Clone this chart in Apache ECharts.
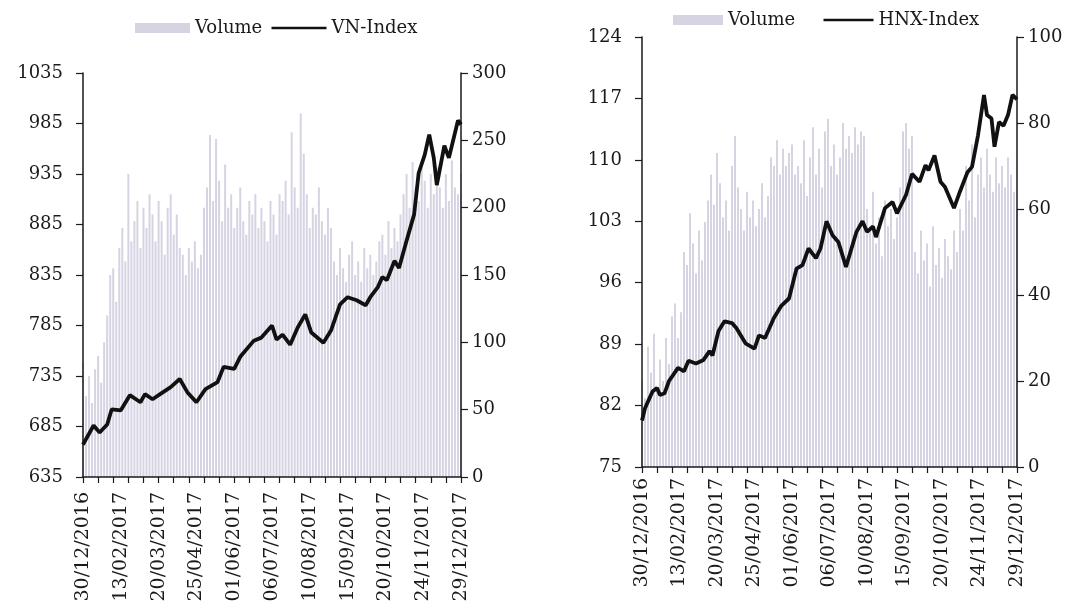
<!DOCTYPE html>
<html>
<head>
<meta charset="utf-8">
<script src="https://cdn.jsdelivr.net/npm/echarts@6/dist/echarts.min.js"></script>
<style>
  html, body { margin: 0; padding: 0; background: #fff; }
  #chart { width: 1072px; height: 609px; }
</style>
</head>
<body>
<div id="chart"></div>
<script>
// trading days of 2017, index 0 = 30/12/2016, 250 = 29/12/2017
const dayCount = 251;
const dateLabels = ['30/12/2016', '13/02/2017', '20/03/2017', '25/04/2017', '01/06/2017',
    '06/07/2017', '10/08/2017', '15/09/2017', '20/10/2017', '24/11/2017', '29/12/2017'];

// VN-Index (left chart) read at these day indices
const vnDays = [0, 7, 11, 16, 19, 25, 31, 38, 41, 46, 51, 58, 64, 69, 75, 81, 89, 93, 100, 104,
    113, 118, 125, 128, 132, 137, 142, 147, 151, 159, 164, 170, 175, 181, 187, 190, 195, 198, 201, 206,
    209, 214, 219, 222, 226, 229, 232, 234, 239, 242, 248, 250];
const vnIndex = [667, 686, 679, 687, 702, 701, 716, 709, 717, 712, 717, 724, 732, 719, 709, 722, 729, 744, 742, 754,
    770, 773, 785, 771, 776, 766, 783, 796, 778, 768, 780, 806, 813, 810, 805, 813, 823, 833, 830, 849,
    842, 869, 895, 936, 954, 974, 951, 924, 963, 951, 988, 984];
// VN volume, one value every 2 trading days
const vnVolume = [85, 60, 75, 55, 80, 90, 70, 100, 120, 150, 155, 130,
    170, 185, 160, 225, 175,
    190, 205, 170, 200, 185, 210, 195, 175, 205, 190, 165, 200, 210, 180, 195, 170,
    165, 150, 170, 160, 175, 155, 165,
    200, 215, 254, 205, 251, 220, 190, 232, 200,
    210, 185, 200, 215, 190, 180, 205, 195, 210, 185, 200, 190, 175, 205, 195, 180, 210,
    205, 220, 195, 256, 215, 200, 270,
    240, 210, 185, 200, 195, 215, 190, 180, 200, 185,
    160, 150, 170, 155, 145, 165, 175, 150, 160, 145, 170, 155, 165, 150, 160, 175,
    180, 165, 190, 170, 185, 175, 195,
    210, 225, 200, 234, 215, 205, 230, 220, 200, 225, 210, 230, 215, 200, 225, 205, 235, 215, 210, 225];

// HNX-Index (right chart)
const hnxDays = [0, 2, 7, 10, 12, 15, 18, 24, 28, 31, 36, 41, 45, 47, 51, 55, 60, 63, 69, 75,
    78, 82, 88, 93, 98, 103, 107, 111, 116, 119, 123, 127, 131, 136, 143, 147, 150, 154, 156, 162,
    167, 170, 176, 180, 185, 189, 191, 195, 199, 202, 208, 212, 217, 220, 224, 228, 230, 233, 235, 238,
    241, 244, 247, 250];
const hnxIndex = [80.3, 81.7, 83.6, 84.0, 83.2, 83.4, 84.8, 86.3, 85.9, 87.1, 86.8, 87.2, 88.2, 87.7, 90.5, 91.6, 91.4, 90.8, 89.1, 88.5,
    90.0, 89.7, 92.0, 93.4, 94.2, 97.6, 98.0, 99.9, 98.8, 99.9, 103.0, 101.4, 100.6, 97.8, 101.8, 103.0, 101.8, 102.4, 101.2, 104.5,
    105.2, 103.9, 106.0, 108.4, 107.5, 109.4, 108.8, 110.5, 107.5, 106.9, 104.5, 106.4, 108.6, 109.2, 112.8, 117.4, 115.1, 114.7, 111.5, 114.3,
    113.9, 115.1, 117.4, 116.9];
const hnxVolume = [20, 16, 28, 22, 31, 18, 25, 20, 30, 24,
    35, 38, 30, 36,
    50, 47, 59, 52, 45, 55, 48, 57,
    62, 68, 61, 73, 66,
    58, 62, 55,
    70, 77, 65,
    60, 55, 64, 58, 62, 56,
    60, 66, 58, 63,
    72, 70, 76, 68, 74, 70, 73, 75, 68,
    70, 66, 76, 63, 72, 79, 68, 74, 65, 78, 81, 70, 75, 68,
    72, 80, 74, 77, 73,
    79, 75, 78, 77,
    60, 55, 64, 52, 58, 49, 62, 56, 60, 53, 58,
    65, 78, 80, 74, 77,
    50, 45, 55, 48, 52, 42, 56, 47, 51, 44, 53, 49, 46, 55, 50,
    60, 55, 70, 62, 75, 58, 68, 72, 65, 74,
    68, 64, 72, 66, 70, 65, 72, 68, 64, 60];

const days = Array.from({ length: dayCount }, (_, i) => i);
const font = 'DejaVu Serif';
const ink = '#1a1a1a';
const volColor = '#d6d3e3';

function xAxisFor(gridIndex, labelMargin) {
    return {
        type: 'category',
        gridIndex: gridIndex,
        data: days,
        boundaryGap: false,
        z: 3,
        axisLine: { lineStyle: { color: ink, width: 1.5 } },
        axisTick: { interval: 9, length: 6, lineStyle: { color: ink, width: 1.2 } },
        axisLabel: {
            interval: 24,
            rotate: 90,
            margin: labelMargin,
            color: ink,
            fontFamily: font,
            fontSize: 19,
            formatter: value => dateLabels[Number(value) / 25]
        },
        splitLine: { show: false }
    };
}

function yAxisFor(gridIndex, position, min, max, interval) {
    return {
        type: 'value',
        gridIndex: gridIndex,
        position: position,
        min: min,
        max: max,
        interval: interval,
        z: 3,
        axisLine: { show: true, lineStyle: { color: ink, width: 1.5 } },
        axisTick: { show: true, length: 7, lineStyle: { color: ink, width: 1.2 } },
        axisLabel: {
            color: ink,
            fontFamily: font,
            fontSize: 18,
            margin: position === 'left' ? 20 : 11,
            formatter: v => String(v)
        },
        splitLine: { show: false }
    };
}

const lineLegend = name => ({ name: name, itemStyle: { opacity: 0 }, lineStyle: { width: 2.5, color: '#111' } });

const chart = echarts.init(document.getElementById('chart'));
chart.setOption({
    animation: false,
    backgroundColor: '#fff',
    textStyle: { fontFamily: font },
    grid: [
        { left: 83, right: 611, top: 73, bottom: 132 },
        { left: 642, right: 55, top: 37, bottom: 142 }
    ],
    legend: [
        {
            left: 130, top: 14,
            itemWidth: 55, itemHeight: 10, itemGap: 8,
            textStyle: { fontFamily: font, fontSize: 18, color: ink },
            data: [{ name: 'Volume', icon: 'rect' }, lineLegend('VN-Index')]
        },
        {
            left: 668, top: 6,
            itemWidth: 50, itemHeight: 10, itemGap: 27,
            textStyle: { fontFamily: font, fontSize: 18, color: ink },
            data: [{ name: 'Volume', icon: 'rect' }, lineLegend('HNX-Index')]
        }
    ],
    xAxis: [xAxisFor(0, 15), xAxisFor(1, 11)],
    yAxis: [
        yAxisFor(0, 'left', 635, 1035, 50),
        yAxisFor(0, 'right', 0, 300, 50),
        yAxisFor(1, 'left', 75, 124, 7),
        yAxisFor(1, 'right', 0, 100, 20)
    ],
    series: [
        {
            name: 'Volume', type: 'bar',
            xAxisIndex: 0, yAxisIndex: 1,
            barWidth: 2,
            itemStyle: { color: volColor },
            data: vnVolume.map((v, i) => [i * 2, v])
        },
        {
            name: 'VN-Index', type: 'line',
            xAxisIndex: 0, yAxisIndex: 0,
            symbol: 'none',
            lineStyle: { color: '#111', width: 3.8 },
            itemStyle: { color: '#111' },
            z: 5,
            data: vnDays.map((d, i) => [d, vnIndex[i]])
        },
        {
            name: 'Volume', type: 'bar',
            xAxisIndex: 1, yAxisIndex: 3,
            barWidth: 2,
            itemStyle: { color: volColor },
            data: hnxVolume.map((v, i) => [i * 2, v])
        },
        {
            name: 'HNX-Index', type: 'line',
            xAxisIndex: 1, yAxisIndex: 2,
            symbol: 'none',
            lineStyle: { color: '#111', width: 3.8 },
            itemStyle: { color: '#111' },
            z: 5,
            data: hnxDays.map((d, i) => [d, hnxIndex[i]])
        }
    ]
});
</script>
</body>
</html>
